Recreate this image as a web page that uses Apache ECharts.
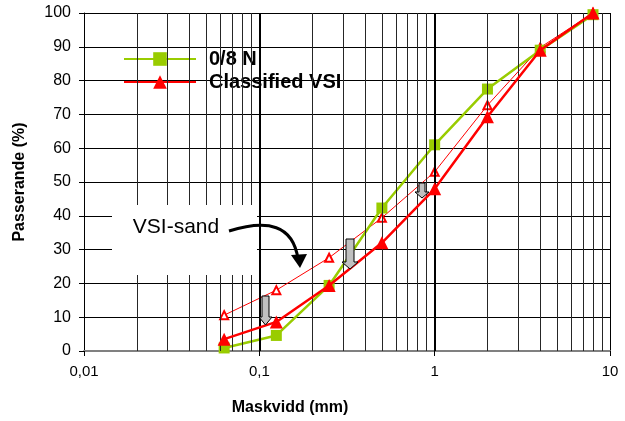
<!DOCTYPE html>
<html><head><meta charset="utf-8">
<script src="https://cdn.jsdelivr.net/npm/echarts@6/dist/echarts.min.js"></script>
<style>html,body{margin:0;padding:0;background:#fff}#c{width:625px;height:421px}</style>
</head><body><div id="c"></div>
<script>
const sieves = [0.063, 0.125, 0.25, 0.5, 1, 2, 4, 8];
const n08 = [0.9, 4.6, 19.4, 42.3, 61, 77.5, 89, 99.5];
const classifiedVSI = [3.5, 8.6, 19.4, 32, 48, 69.3, 89, 100];
const vsiSand = [10.6, 18, 27.6, 39.4, 53, 72.7, 89.8, 100];
const xTicks = [0.01, 0.1, 1, 10];
const yTicks = [0,10,20,30,40,50,60,70,80,90,100];
const minorLines = [0.02,0.03,0.04,0.05,0.06,0.07,0.08,0.09,0.2,0.3,0.4,0.5,0.6,0.7,0.8,0.9,2,3,4,5,6,7,8,9];
const decadeLines = [0.1, 1];

const pair = (xs, ys) => xs.map((x, i) => [x, ys[i]]);
const chart = echarts.init(document.getElementById('c'), null, {renderer:'canvas'});

function blockArrow(l, r, top, hy, hl, hr, tx, ty) {
  return {type:'polygon', z:100, shape:{points:[[l,top],[r,top],[r,hy],[hr,hy],[tx,ty],[hl,hy],[l,hy]]},
    style:{fill:'#c0c0c0', stroke:'#000', lineWidth:1}};
}

chart.setOption({
  animation:false,
  backgroundColor:'#fff',
  grid:{left:84, right:15, top:13, bottom:70},
  legend:{
    data:['0/8 N','Classified VSI'], orient:'vertical', left:123, top:49, padding:0,
    itemWidth:72, itemHeight:17, itemGap:3,
    textStyle:{fontFamily:'Arial, Liberation Sans', fontWeight:'bold', fontSize:20, color:'#000', padding:[0,0,0,8]}
  },
  xAxis:{
    type:'log', logBase:10, min:0.01, max:10,
    axisLine:{lineStyle:{color:'#808080', width:2}},
    axisTick:{show:true, length:5, lineStyle:{color:'#000'}},
    axisLabel:{fontFamily:'Arial, Liberation Sans', fontSize:15, color:'#000', margin:13,
      formatter: v => String(v).replace('.', ',')},
    splitLine:{show:true, lineStyle:{color:'#000', width:1}}
  },
  yAxis:{
    type:'value', min:0, max:100, interval:10,
    axisLine:{show:true, lineStyle:{color:'#000', width:1}},
    axisTick:{show:true, length:5, lineStyle:{color:'#000'}},
    axisLabel:{fontFamily:'Arial, Liberation Sans', fontSize:16, color:'#000', margin:13},
    splitLine:{show:true, lineStyle:{color:'#000', width:1}}
  },
  series:[
    {type:'line', name:'grid', data:[], z:1, silent:true,
      markLine:{silent:true, symbol:'none', label:{show:false}, animation:false,
        data: minorLines.map(v => ({xAxis:v, lineStyle:{color:'#262626', width:1, type:'solid'}}))
          .concat(decadeLines.map(v => ({xAxis:v, lineStyle:{color:'#000', width:2, type:'solid'}})))}},
    {type:'line', name:'VSI-sand', data:pair(sieves, vsiSand), z:3,
      lineStyle:{color:'#ff0000', width:1}, itemStyle:{color:'#ff0000'},
      symbol:'emptyTriangle', symbolSize:8, showAllSymbol:true},
    {type:'line', name:'0/8 N', data:pair(sieves, n08), z:4,
      lineStyle:{color:'#99cc00', width:2.5}, itemStyle:{color:'#99cc00'},
      symbol:'rect', symbolSize:11},
    {type:'line', name:'Classified VSI', data:pair(sieves, classifiedVSI), z:5,
      lineStyle:{color:'#ff0000', width:2.5}, itemStyle:{color:'#ff0000'},
      symbol:'triangle', symbolSize:13}
  ],
  graphic:[
    {type:'rect', z:90, shape:{x:112, y:205, width:145, height:70}, style:{fill:'#fff'}},
    {type:'text', z:100, x:176, y:227, style:{text:'VSI-sand', fontFamily:'Arial, Liberation Sans', fontSize:21,
      fill:'#000', align:'center', verticalAlign:'middle'}},
    {type:'bezierCurve', z:100, shape:{x1:229, y1:231, x2:298, y2:259, cpx1:268, cpy1:219, cpx2:293, cpy2:225},
      style:{stroke:'#000', lineWidth:3, fill:null}},
    {type:'polygon', z:100, shape:{points:[[300,268],[291,255],[307,254]]}, style:{fill:'#000'}},
    blockArrow(262, 269, 296, 317, 259, 272, 265.5, 325),
    blockArrow(346, 354, 239, 262, 342, 358, 350, 269),
    blockArrow(419, 425, 183, 192, 415, 429, 422, 198),
    {type:'text', z:100, x:290, y:408, style:{text:'Maskvidd (mm)', fontFamily:'Arial, Liberation Sans', fontSize:16,
      fontWeight:'bold', fill:'#000', align:'center', verticalAlign:'middle'}},
    {type:'text', z:100, x:20, y:182, rotation:Math.PI/2, style:{text:'Passerande (%)', fontFamily:'Arial, Liberation Sans', fontSize:16,
      fontWeight:'bold', fill:'#000', align:'center', verticalAlign:'middle'}}
  ]
});
</script></body></html>
